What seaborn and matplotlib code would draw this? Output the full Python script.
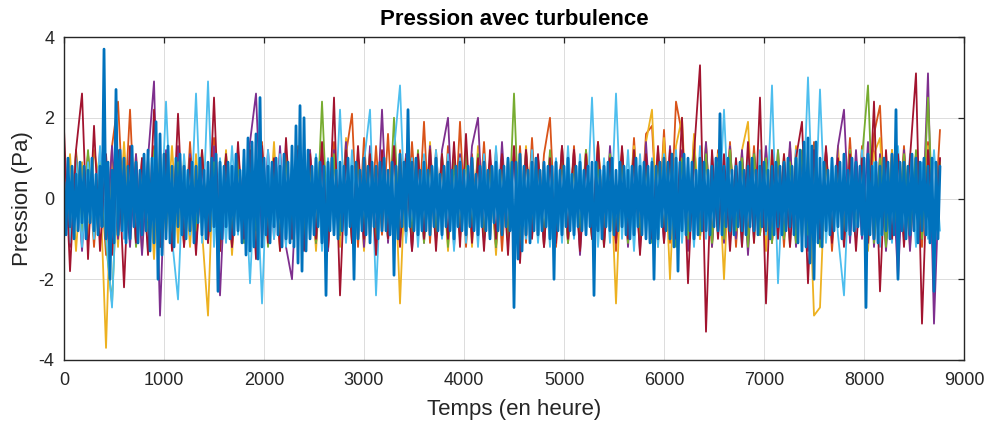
import numpy as np
import pandas as pd
import matplotlib
matplotlib.use("Agg")
import matplotlib.pyplot as plt
import seaborn as sns

# Pas de temps (heures) des échantillons de chaque courbe
pas_principal = 20
pas_secondaire = 60

# Pression (Pa) des courbes secondaires, un point toutes les 60 h
pression_orange = [
    0.6, -1.0, 1.2, -0.8, 1.1, -1.2, 0.9, -1.4, 1.3, 2.4, -0.6, 2.2, -1.1, 1.0, -0.9, 1.3, -1.2, 0.8, -1.0, 1.1,
    -1.2, 1.4, -0.9, 1.1, -1.0, 1.5, -1.3, 0.9, -1.1, 1.2, -0.8, 1.0, -1.3, 1.4, -1.0, 0.9, -1.2, 1.1, -0.9, 1.3,
    -1.0, 1.2, -1.1, 0.9, -1.3, 1.4, -0.9, 1.1, 2.1, -1.2, 1.5, -1.0, 1.3, -0.9, 1.6, -1.1, 1.2, -1.0, 1.4, -0.8,
    1.9, -1.1, 1.2, -0.9, 1.3, -1.0, 1.9, -1.2, 1.1, -0.8, 1.4, -1.0, 1.2, -1.3, 1.0, -0.9, 1.3, -1.1, 1.5, -1.0,
    1.1, 2.0, -1.2, 1.0, -0.9, 1.3, -1.1, 1.2, -1.0, 1.4, -0.8, 1.1, -1.3, 1.2, -1.0, 1.5, -0.9, 1.6, 1.8, -1.0,
    1.7, -1.1, 2.4, 1.6, -1.2, 1.5, -1.0, 1.3, -1.1, 1.2, -0.9, 1.4, -1.2, 1.1, -1.0, 1.3, -0.9, 1.2, -1.1, 1.0,
    -1.2, 1.3, -1.0, 1.1, -0.9, 1.4, -1.1, 1.2, -1.3, 1.0, -0.8, 1.5, -1.0, 1.3, -1.2, 1.6, 2.3, -1.1, 1.2, -0.9,
    1.3, -1.0, 1.1, -1.2, 1.4, -0.9, 1.7,
]
pression_jaune = [
    -0.8, 1.1, -1.3, 0.9, -1.1, 1.2, 0.4, -3.7, 1.0, -1.2, 1.4, -0.9, 1.1, -1.3, 1.0, -1.5, 1.2, -0.9, 1.3, -1.1,
    1.0, -1.2, 1.1, -0.8, -2.9, 1.3, -1.0, 1.2, -1.4, 0.9, -1.1, 1.3, -1.2, 1.0, -0.9, 1.4, -1.3, 1.1, -1.0, 1.2,
    -1.1, 0.9, -1.3, 1.2, -1.0, 1.1, -1.2, 1.5, -0.9, 1.0, -1.3, 1.2, -1.1, 0.8, -1.0, 1.3, -2.6, 1.1, -1.2, 1.0,
    -0.9, 1.4, -1.1, 1.0, -1.3, 1.2, -0.8, 1.1, -1.2, 1.3, -1.0, 0.9, -1.4, 1.1, -1.0, 1.2, -1.1, 1.3, -0.9, 1.0,
    -1.2, 1.1, -1.0, 1.3, -1.1, 0.9, -1.3, 1.2, -1.0, 1.4, -0.9, 1.1, -2.6, 1.2, -1.0, 1.3, -1.1, 1.4, 2.2, -1.2,
    1.5, -2.0, 1.3, 2.0, -1.1, 1.6, -1.0, 1.4, -1.2, 1.1, -2.0, 1.3, -1.0, 1.2, 1.9, -1.1, 1.0, -1.3, 1.2, -0.9,
    1.1, -1.2, 1.3, -1.0, 1.2, -2.9, -2.7, 1.1, -1.0, 1.3, -1.1, 1.2, -0.9, 1.0, -1.3, 1.1, 1.5, -1.0, 1.2, -1.1,
    1.0, -1.2, 1.1, -0.9, 1.3, -1.1, 1.0,
]
pression_violet = [
    0.9, -1.2, 1.0, -1.3, 1.1, -0.9, 1.2, -1.1, 1.3, -1.0, 0.8, -1.2, 1.1, -1.4, 1.0, 2.9, -2.9, 1.2, -1.1, 1.3,
    -1.0, 1.1, -1.2, 0.9, -1.1, 1.3, -2.4, 1.0, -1.2, 1.1, -0.9, 1.4, 2.6, -1.1, 1.2, -1.0, 1.3, -1.2, -2.0, 1.1,
    -1.0, 1.2, -1.1, 1.0, -1.3, 1.2, -0.9, 1.4, -1.1, 1.0, -1.2, 1.3, -1.0, 2.2, -1.1, 1.2, -0.9, 1.1, -1.3, 1.0,
    -1.1, 1.3, -1.0, 1.2, 2.0, -1.2, 1.1, -0.9, 1.3, 2.0, -1.1, 1.0, -1.2, 1.4, -1.0, 1.1, -1.3, 1.2, -0.9, 1.0,
    -1.2, 1.1, -1.0, 1.3, -1.1, 1.2, -1.4, 1.0, -0.9, 1.2, -1.1, 1.3, -1.0, 1.1, -1.2, 1.0, -1.3, 1.4, -1.0, 1.2,
    -1.1, 1.3, -1.0, 1.2, -1.3, 1.1, -0.9, 1.4, -1.2, 1.0, -1.1, 1.3, -1.0, 1.2, -1.4, 1.1, -0.9, 1.3, -1.1, 1.2,
    -1.0, 1.4, -1.2, 1.1, -1.3, 1.0, -1.1, 1.2, -0.9, 1.3, 2.2, -1.1, 1.2, -1.0, 1.4, -1.2, 1.1, -1.3, 1.0, -2.0,
    1.2, -1.3, 1.1, -1.0, 3.1, -3.1, 1.0,
]
pression_vert = [
    0.5, -0.9, 1.1, -0.8, 1.2, -1.0, 0.9, -1.1, -2.6, 1.0, -0.9, 1.1, -1.2, 0.8, -1.0, 1.2, -0.9, 1.1, -1.0, 0.9,
    -1.1, 1.0, -0.8, 1.2, -1.0, 0.9, -1.2, 1.1, -0.9, 1.0, -1.1, 1.2, -0.8, 1.0, -1.2, 0.9, -1.0, 1.1, -0.9, 1.2,
    -1.0, 0.9, -1.1, 2.4, -1.0, 1.1, -0.9, 1.2, -1.1, 1.0, -0.8, 1.1, -1.2, 0.9, -1.0, 2.0, -1.1, 1.0, -0.9, 1.2,
    -1.1, 1.0, -0.9, 1.1, -1.2, 0.9, -1.0, 1.2, -0.8, 1.1, -1.0, 0.9, -1.2, 1.0, -1.1, 2.6, -1.3, 1.1, -0.9, 1.0,
    -1.0, 1.2, -0.9, 1.1, -1.1, 1.0, -0.8, 1.2, -1.0, 0.9, -1.2, 1.1, -0.9, 1.0, -1.1, 1.2, -1.0, 0.9, -1.1, 1.0,
    -0.9, 1.1, -1.2, 1.0, -1.0, 1.2, -0.9, 1.1, -1.1, 0.9, -1.0, 1.2, -0.8, 1.0, -1.2, 1.1, -0.9, 1.0, -1.1, 1.2,
    -1.0, 0.9, -1.1, 1.2, -0.9, 1.0, -1.2, 1.1, -1.0, 0.9, -1.1, 1.2, -0.9, 1.0, 2.8, -1.1, 1.0, -1.2, 0.9, -1.0,
    1.1, -0.9, 1.2, -1.0, 2.5, -1.1, 0.9,
]
pression_cyan = [
    0.7, -1.1, 1.0, -1.2, 0.9, -1.0, 1.3, -0.9, -2.7, 1.1, -1.0, 1.2, -1.1, 0.9, -1.3, 1.0, -1.2, 2.4, -1.0, -2.5,
    1.1, -0.9, 2.6, -1.1, 2.9, -1.2, 1.0, -1.1, 1.3, -0.9, 1.1, -2.1, 1.0, -2.6, 1.2, -1.0, 1.1, -1.2, 0.9, -1.1,
    1.2, -1.0, 1.1, -1.3, 1.0, -0.9, 2.2, -1.1, 1.2, -1.0, 0.9, 2.2, -2.4, 1.1, -1.0, 1.2, 2.8, -1.1, 1.0, -1.2,
    1.1, -0.9, 1.2, -1.0, 1.1, -1.3, 1.0, -1.1, 0.9, -1.2, 1.1, -1.0, 1.3, -0.9, 1.0, -1.2, 1.1, -1.0, 1.2, -1.1,
    0.9, -1.2, 1.0, -1.1, 1.3, -1.0, 1.1, -0.9, 2.5, -1.2, 1.0, -1.1, 2.6, -1.0, 1.2, -1.3, 1.1, -0.9, 1.0, -1.2,
    1.1, -1.0, 1.2, -1.1, 0.9, -1.2, 1.3, -1.0, 1.1, -0.9, 2.2, -1.1, 1.0, -1.2, 1.1, -1.0, 1.2, -0.9, 2.8, -2.1,
    1.0, -1.1, 1.2, -1.0, 3.0, -1.2, 2.7, -1.1, 1.0, -0.9, -2.4, 1.1, -1.0, 1.2, -1.1, 0.9, -1.2, 1.0, -1.1, 1.3,
    -1.0, 1.1, -1.2, 0.9, -1.0, 1.2, -0.8,
]
pression_bordeaux = [
    1.7, -1.8, 1.2, 2.6, -1.5, 1.8, -1.3, 1.1, -1.4, 1.2, -2.2, 1.3, -1.1, 1.0, -1.4, 2.2, -1.2, 1.1, -1.3, 2.1,
    -1.2, 1.0, -1.4, 1.2, -1.1, 2.5, -1.3, 1.1, -1.2, 1.4, -1.0, 1.2, -1.5, 1.3, -1.1, 1.0, -1.3, 1.5, -1.0, 1.2,
    -1.3, 1.1, -1.0, 1.4, -1.2, 2.5, -2.4, 1.2, -1.1, 1.3, -1.0, 1.1, -1.4, 1.2, -1.0, 1.3, -1.2, 1.0, -1.3, 1.1,
    -1.0, 1.2, -1.3, 1.1, -1.0, 1.4, -1.2, 1.6, -1.1, 1.0, -1.3, 1.2, -1.0, 1.1, -1.4, 1.3, -1.6, 1.2, -1.0, 1.1,
    -1.2, 1.0, -1.1, 1.3, -1.0, 1.2, -1.3, 1.1, -1.0, 1.4, -1.2, 1.0, -1.1, 1.3, -1.0, 1.2, -1.4, 1.1, -1.0, 1.3,
    -1.1, 1.2, -1.0, 2.0, -2.1, 1.1, 3.3, -3.3, 1.2, -1.0, 1.1, -1.3, 1.0, -1.2, 1.4, -1.1, 2.5, -2.6, 1.2, -1.0,
    1.1, -1.2, 1.0, 1.9, -2.1, 1.2, -1.0, 1.3, -1.1, 1.0, -1.2, 1.1, -1.3, 1.0, -1.1, 2.4, -2.3, 1.2, -1.0, 1.1,
    -1.2, 1.0, 3.1, -3.1, 1.2, -1.1, 1.0,
]

# Courbe principale (tracée au premier plan), un point toutes les 20 h
pression_bleu = [
    0.4, -0.9, 1.0, -0.7, 0.8, -1.0, 0.6, -0.8, 0.9, -0.6, 0.8, -1.0, 0.7, -0.6, 1.0, -0.8, 0.6, -0.9, 0.8, -0.7,
    3.7, -1.0, 0.9, -2.0, 0.7, -1.1, 2.7, -0.9, 1.2, -0.8, 1.0, -1.1, 0.8, -1.0, 1.3, -0.7, 0.9, -1.1, 0.7, -0.9,
    1.1, -0.8, 1.2, -1.3, 1.0, -1.1, 1.9, -2.0, 1.6, -1.4, 1.1, -1.0, 1.3, -1.1, 0.8, -1.2, 1.0, -0.7, 1.1, -0.9,
    0.8, -1.0, 0.7, -0.8, 0.9, -1.1, 0.8, -0.6, 1.0, -0.9, 0.7, -1.0, 0.9, -0.8, 1.0, -0.7, 1.1, -2.3, 0.9, -1.0,
    0.8, -0.7, 0.9, -1.0, 0.8, -0.9, 1.1, -0.8, 0.7, -1.1, 1.2, -1.4, 1.5, -1.3, 1.4, -1.2, 1.6, -1.5, 2.5, -1.2,
    1.0, -0.9, 0.8, -1.1, 0.9, -0.7, 1.0, -0.9, 0.8, -1.2, 1.1, -1.0, 0.9, -1.1, 1.3, -1.2, 1.8, -1.6, 2.3, -1.8,
    2.0, -1.3, 1.2, -1.0, 0.8, -0.9, 1.0, -0.7, 0.9, -1.1, 0.8, -2.4, 0.9, -0.8, 1.0, -0.9, 0.7, -1.0, 0.9, -0.8,
    0.8, -0.9, 1.0, -0.7, 0.8, -2.0, 0.9, -1.0, 0.7, -0.8, 1.0, -0.9, 0.8, -1.1, 0.9, -0.7, 0.8, -1.0, 0.9, -0.8,
    1.0, -0.8, 0.7, -0.9, 0.9, -1.9, 0.8, -1.0, 1.1, -0.7, 0.9, -0.8, 2.2, -0.7, 0.9, -0.8, 1.0, -0.9, 0.7, -0.8,
    0.9, -0.8, 0.7, -0.9, 0.8, -0.7, 1.0, -0.8, 0.6, -0.9, 0.8, -0.7, 0.9, -0.8, 0.7, -1.0, 0.8, -0.7, 0.9, -0.8,
    0.7, -0.9, 0.8, -0.7, 1.0, -0.8, 0.6, -0.9, 0.8, -0.7, 0.9, -0.8, 0.7, -1.0, 0.8, -0.6, 0.9, -0.8, 0.7, -0.9,
    0.8, -0.7, 1.0, -0.8, 0.9, -2.7, 0.9, -1.5, 1.1, -1.3, 0.8, -0.9, 0.7, -1.1, 0.9, -0.8, 1.0, -0.9, 0.7, -0.8,
    0.9, -0.7, 0.8, -1.0, 0.8, -2.0, 0.9, -0.8, 0.7, -0.9, 0.8, -0.7, 1.0, -0.8, 0.6, -0.9, 0.8, -0.7, 0.9, -0.8,
    0.7, -0.9, 0.8, -0.7, 0.9, -2.4, 0.9, -0.8, 0.7, -1.0, 0.8, -0.7, 0.9, -0.8, 1.0, -0.9, 0.7, -0.8, 0.9, -0.7,
    0.8, -0.9, 0.7, -1.0, 0.8, -0.9, 1.0, -0.7, 0.8, -0.9, 0.9, -1.0, 0.8, -1.1, 0.9, -2.0, 0.8, -1.0, 0.9, -0.7,
    1.0, -0.8, 0.9, -1.0, 1.1, -1.2, 1.0, -1.8, 0.9, -0.8, 1.1, -0.9, 1.0, -0.8, 0.9, -1.0, 0.7, -0.9, 1.0, -0.8,
    0.9, -0.8, 0.7, -0.9, 0.8, -0.7, 1.0, -0.8, 2.1, -0.9, 0.8, -0.7, 1.0, -0.8, 0.7, -0.9, 0.8, -0.7, 0.9, -0.8,
    0.7, -0.9, 0.8, -0.7, 1.0, -0.8, 0.7, -0.9, 0.8, -0.7, 0.9, -0.8, 0.7, -1.0, 0.8, -0.9, 0.9, -0.7, 0.8, -0.9,
    0.9, -0.8, 1.0, -0.7, 0.8, -0.9, 1.0, -1.1, 1.2, -1.3, 1.4, -1.2, 1.5, -1.6, 1.3, -2.0, 1.4, -1.1, 1.0, -1.2,
    0.9, -0.8, 0.7, -0.9, 1.0, -0.8, 0.8, -0.7, 0.9, -1.0, 1.1, -0.8, 0.7, -0.9, 1.0, -0.8, 0.9, -0.7, 0.8, -0.9,
    1.0, -2.7, 1.1, -0.9, 0.8, -1.0, 0.9, -1.1, 0.8, -0.9, 1.0, -0.8, 0.9, -1.0, 1.1, -0.9, 2.2, -2.0, 0.9, -0.8,
    0.9, -1.0, 0.8, -0.9, 1.1, -0.8, 1.0, -1.1, 0.9, -0.8, 1.0, -0.9, 0.8, -1.1, 1.0, -2.3, 0.9, -1.0, 0.8,
]

# Ordre de tracé et couleurs (palette par défaut de MATLAB)
courbes = [
    ("courbe 2", pression_orange, pas_secondaire, "#D95319"),
    ("courbe 3", pression_jaune, pas_secondaire, "#EDB120"),
    ("courbe 4", pression_violet, pas_secondaire, "#7E2F8E"),
    ("courbe 5", pression_vert, pas_secondaire, "#77AC30"),
    ("courbe 6", pression_cyan, pas_secondaire, "#4DBEEE"),
    ("courbe 7", pression_bordeaux, pas_secondaire, "#A2142F"),
    ("courbe 1", pression_bleu, pas_principal, "#0072BD"),
]

frames = []
for nom, valeurs, pas, _ in courbes:
    frames.append(pd.DataFrame({
        "temps": np.arange(len(valeurs)) * pas,
        "pression": valeurs,
        "courbe": nom,
    }))
df = pd.concat(frames, ignore_index=True)
ordre = [c[0] for c in courbes]
palette = {c[0]: c[3] for c in courbes}

sns.set_theme(style="white")
plt.rcParams["font.family"] = ["Liberation Sans", "DejaVu Sans"]
plt.rcParams["axes.unicode_minus"] = False

fig = plt.figure(figsize=(9.88, 4.21), dpi=100)
ax = fig.add_axes([0.0648, 0.1449, 0.9109, 0.7672])

sns.lineplot(data=df, x="temps", y="pression", hue="courbe", hue_order=ordre,
             palette=palette, estimator=None, sort=False, legend=False,
             linewidth=1.3, ax=ax)
# trait plus épais pour la courbe principale
ax.lines[-1].set_linewidth(2.0)

ax.set_xlim(0, 9000)
ax.set_ylim(-4, 4)
ax.set_xticks(np.arange(0, 9001, 1000))
ax.set_yticks([-4, -2, 0, 2, 4])
ax.grid(True, color="#dcdcdc", linewidth=0.7)
ax.set_axisbelow(True)

axe_couleur = "#262626"
for sp in ax.spines.values():
    sp.set_color(axe_couleur)
    sp.set_linewidth(1.0)
ax.tick_params(direction="in", length=4, width=0.9, colors=axe_couleur,
               labelsize=13, top=True, right=True)
ax.tick_params(axis="x", pad=9)
ax.tick_params(axis="y", pad=7)

ax.set_title("Pression avec turbulence", fontsize=16, fontweight="bold",
             color="black", pad=9)
ax.set_xlabel("Temps (en heure)", fontsize=16, color=axe_couleur, labelpad=7)
ax.set_ylabel("Pression (Pa)", fontsize=16, color=axe_couleur, labelpad=4)

fig.savefig("out.png", dpi=100, facecolor="white")
